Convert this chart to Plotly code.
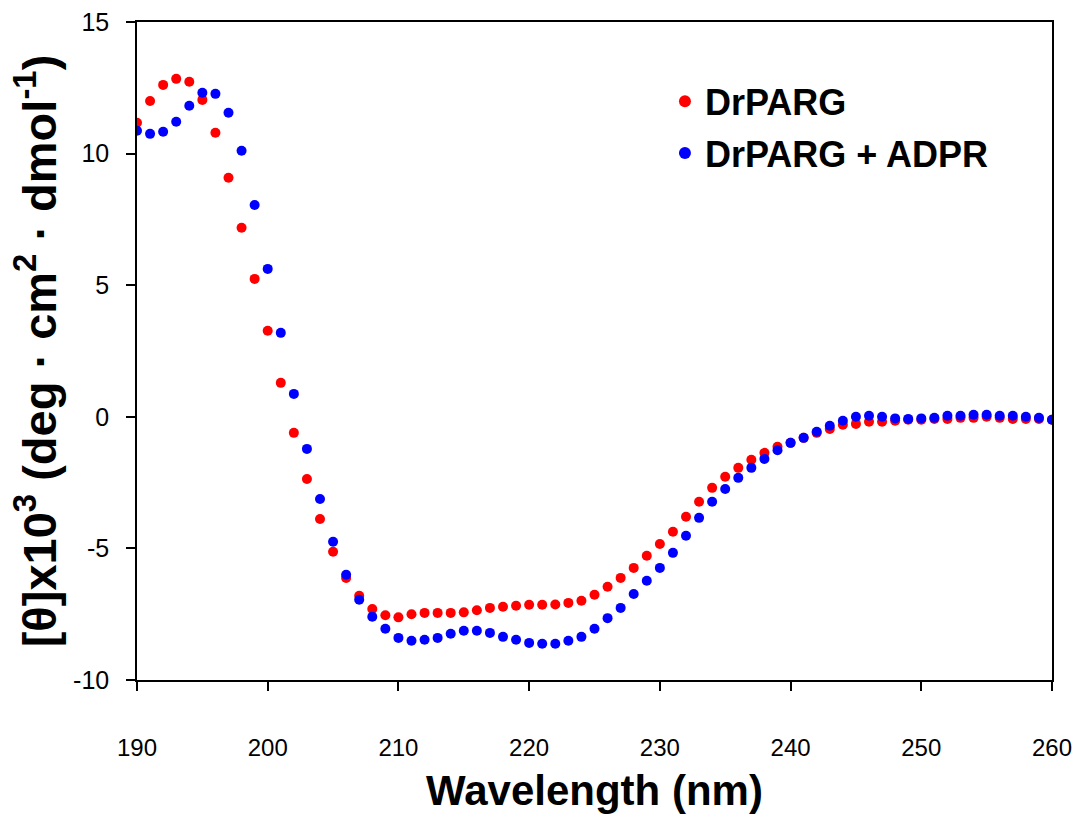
import plotly.graph_objects as go

wavelength = list(range(190, 261))

drparg = [11.17, 12.00, 12.61, 12.84, 12.73, 12.04, 10.79, 9.08, 7.18, 5.24,
          3.27, 1.29, -0.61, -2.36, -3.88, -5.13, -6.12, -6.80, -7.30, -7.54,
          -7.62, -7.50, -7.45, -7.45, -7.45, -7.43, -7.35, -7.26, -7.22, -7.18,
          -7.14, -7.14, -7.13, -7.07, -6.99, -6.76, -6.46, -6.12, -5.74, -5.28,
          -4.83, -4.37, -3.80, -3.23, -2.70, -2.28, -1.94, -1.63, -1.37, -1.14,
          -0.99, -0.80, -0.61, -0.46, -0.30, -0.27, -0.19, -0.19, -0.15, -0.11,
          -0.11, -0.08, -0.08, -0.04, -0.04, 0.00, -0.04, -0.08, -0.08, -0.08,
          -0.11]

drparg_adpr = [10.87, 10.75, 10.83, 11.21, 11.82, 12.31, 12.27, 11.55, 10.11, 8.05,
               5.62, 3.19, 0.87, -1.22, -3.12, -4.75, -6.00, -6.95, -7.60, -8.05,
               -8.40, -8.51, -8.47, -8.40, -8.24, -8.13, -8.13, -8.21, -8.36, -8.47,
               -8.59, -8.62, -8.62, -8.51, -8.36, -8.05, -7.65, -7.26, -6.73, -6.23,
               -5.74, -5.17, -4.52, -3.84, -3.23, -2.74, -2.32, -1.94, -1.60, -1.27,
               -0.99, -0.80, -0.57, -0.34, -0.15, 0.00, 0.04, 0.00, -0.06, -0.08,
               -0.06, -0.04, 0.04, 0.04, 0.08, 0.08, 0.04, 0.04, 0.00, -0.04,
               -0.11]

series_names = ["DrPARG", "DrPARG + ADPR"]
series_colors = ["#FF0000", "#0000FF"]

x_ticks = [190, 200, 210, 220, 230, 240, 250, 260]
y_ticks = [-10, -5, 0, 5, 10, 15]

FONT = "Arial, Liberation Sans, Helvetica, sans-serif"

fig = go.Figure()
for name, vals, col in zip(series_names, [drparg, drparg_adpr], series_colors):
    fig.add_trace(go.Scatter(
        x=wavelength, y=vals, mode="markers", name=name,
        legendgroup=name,
        marker=dict(color=col, size=10, line=dict(width=0)),
    ))

fig.update_layout(
    width=1080, height=816,
    margin=dict(l=137, r=28, t=22, b=136),
    paper_bgcolor="white", plot_bgcolor="white",
    font=dict(family=FONT, color="black"),
    showlegend=True,
    legend=dict(
        x=0.577, y=0.925, xanchor="left", yanchor="top",
        font=dict(size=36, family=FONT, color="black", weight="bold"),
        bgcolor="rgba(0,0,0,0)", tracegroupgap=2,
        itemsizing="constant",
    ),
    xaxis=dict(
        range=[190, 260], tickvals=x_ticks, ticktext=[str(v) for v in x_ticks],
        showgrid=False, zeroline=False, automargin=False,
        showline=True, linecolor="black", linewidth=1.5, mirror=True,
        ticks="outside", ticklen=9, tickwidth=1.5, tickcolor="black",
        tickfont=dict(size=24, family=FONT), ticklabelstandoff=36,
        title=dict(text="Wavelength (nm)", standoff=16,
                   font=dict(size=42, family=FONT, weight="bold")),
    ),
    yaxis=dict(
        range=[-10, 15], tickvals=y_ticks, ticktext=[str(v) for v in y_ticks],
        showgrid=False, zeroline=False, automargin=False,
        showline=True, linecolor="black", linewidth=1.5, mirror=True,
        ticks="outside", ticklen=9, tickwidth=1.5, tickcolor="black",
        tickfont=dict(size=25, family=FONT), ticklabelstandoff=12,
        title=dict(text="[θ]x10<sup>3</sup> (deg · cm<sup>2</sup> · dmol<sup>-1</sup>)",
                   standoff=2,
                   font=dict(size=47, family=FONT, weight="bold")),
    ),
)

fig.write_html(
    "out.html",
    config={"displayModeBar": False},
    post_script="document.body.style.margin='0';document.body.style.overflow='hidden';",
)
